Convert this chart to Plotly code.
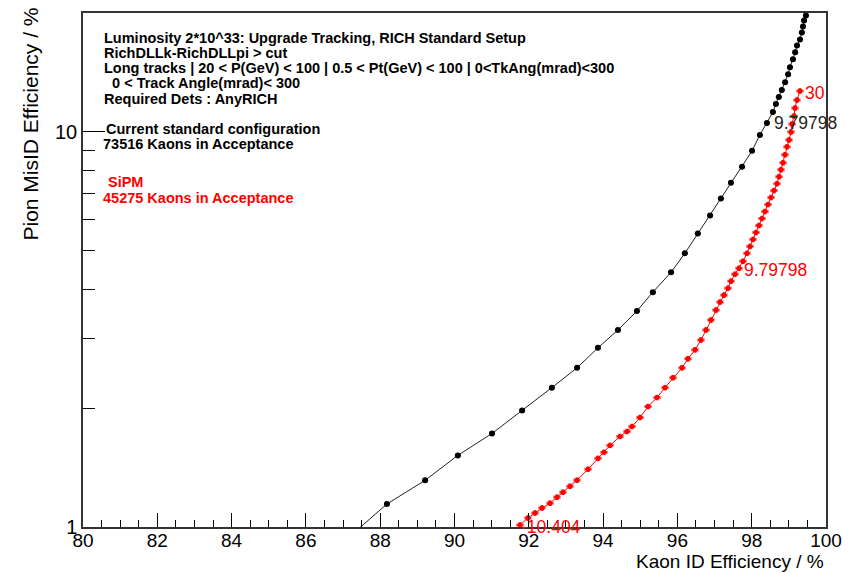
import math
import plotly.graph_objects as go

# ---- data (Kaon ID efficiency %, Pion MisID efficiency %) ----
std_kaon_eff = [87.20, 88.18, 89.21, 90.09, 91.01, 91.82, 92.62, 93.30, 93.86, 94.40,
                94.91, 95.34, 95.83, 96.20, 96.55, 96.88, 97.17, 97.44, 97.74, 98.01,
                98.22, 98.41, 98.57, 98.65, 98.73, 98.81, 98.90, 98.98, 99.03, 99.11,
                99.17, 99.22, 99.30, 99.35, 99.38, 99.41, 99.46, 99.52]
std_pion_mis = [0.95, 1.143, 1.313, 1.518, 1.725, 1.971, 2.253, 2.529, 2.841, 3.153,
                3.521, 3.931, 4.414, 4.928, 5.535, 6.144, 6.781, 7.438, 8.160, 8.955,
                9.827, 10.54, 11.23, 11.77, 12.25, 12.76, 13.36, 14.00, 14.58, 15.27,
                15.91, 16.56, 17.15, 17.86, 18.49, 19.15, 19.71, 20.6]

sipm_kaon_eff = [91.763, 91.978, 92.167, 92.355, 92.571, 92.759, 92.921, 93.109, 93.297, 93.594,
                 93.863, 94.024, 94.186, 94.455, 94.643, 94.778, 94.993, 95.209, 95.451, 95.666,
                 95.882, 96.124, 96.285, 96.474, 96.635, 96.770, 96.904, 97.039, 97.147, 97.254,
                 97.362, 97.443, 97.550, 97.658, 97.766, 97.873, 97.954, 98.035, 98.116, 98.196,
                 98.277, 98.358, 98.439, 98.520, 98.600, 98.681, 98.735, 98.789, 98.843, 98.896,
                 98.950, 99.004, 99.058, 99.085, 99.139, 99.166, 99.219, 99.300]
sipm_pion_mis = [1.012, 1.054, 1.085, 1.117, 1.149, 1.190, 1.225, 1.268, 1.314, 1.400,
                 1.492, 1.545, 1.609, 1.695, 1.745, 1.797, 1.893, 2.018, 2.126, 2.253,
                 2.387, 2.529, 2.666, 2.808, 2.975, 3.153, 3.341, 3.541, 3.709, 3.863,
                 4.023, 4.190, 4.364, 4.518, 4.705, 4.928, 5.132, 5.345, 5.566, 5.797,
                 6.038, 6.289, 6.549, 6.822, 7.104, 7.396, 7.703, 8.023, 8.355, 8.753,
                 9.168, 9.546, 10.00, 10.47, 10.97, 11.49, 12.04, 12.69]

# cut-value labels: (index into series, text)
std_cut_labels = [(21, "9.79798")]
sipm_cut_labels = [(0, "-10.404"), (33, "9.79798"), (57, "30")]

x_ticks = [80, 82, 84, 86, 88, 90, 92, 94, 96, 98, 100]
y_ticks = [1, 10]
y_minor = [2, 3, 4, 5, 6, 7, 8, 9]

info_lines = [
    "Luminosity 2*10^33: Upgrade Tracking, RICH Standard Setup",
    "RichDLLk-RichDLLpi > cut",
    "Long tracks | 20 < P(GeV) < 100 | 0.5 < Pt(GeV) < 100 | 0<TkAng(mrad)<300",
    "  0 < Track Angle(mrad)< 300",
    "Required Dets : AnyRICH",
]
legend_items = [
    ("Current standard configuration", "black"),
    ("73516 Kaons in Acceptance", "black"),
    ("SiPM", "red"),
    ("45275 Kaons in Acceptance", "red"),
]

FONT = "Liberation Sans, Arial, sans-serif"
W, H = 858, 573
L, R, T, B = 83, 32, 11, 46
PW, PH = W - L - R, H - T - B


def px(xp):
    return (xp - L) / PW


def py(yp):
    return (H - B - yp) / PH


def esc(t):
    return t.replace("<", "&lt;").replace(">", "&gt;")


fig = go.Figure()

fig.add_trace(go.Scatter(
    x=std_kaon_eff, y=std_pion_mis, mode="lines+markers",
    line=dict(color="#222222", width=1),
    marker=dict(color="black", size=6, symbol="circle"),
    error_x=dict(type="constant", value=0.06, color="black", thickness=1, width=1),
    error_y=dict(type="percent", value=0.8, color="black", thickness=1, width=1),
    showlegend=False,
))
fig.add_trace(go.Scatter(
    x=sipm_kaon_eff, y=sipm_pion_mis, mode="lines+markers",
    line=dict(color="red", width=1),
    marker=dict(color="red", size=5, symbol="circle"),
    error_x=dict(type="constant", value=0.08, color="red", thickness=1, width=1.5),
    error_y=dict(type="percent", value=1.3, color="red", thickness=1, width=1.5),
    showlegend=False,
))

ann = []
for i, t in std_cut_labels:
    ann.append(dict(x=std_kaon_eff[i], y=math.log10(std_pion_mis[i]),
                    xref="x", yref="y", text=t, showarrow=False, xanchor="left",
                    xshift=5, font=dict(family=FONT, size=17.5, color="#222222")))
for i, t in sipm_cut_labels:
    ann.append(dict(x=sipm_kaon_eff[i], y=math.log10(sipm_pion_mis[i]),
                    xref="x", yref="y", text=t, showarrow=False, xanchor="left",
                    xshift=(-1 if t.startswith("-") else 3), yshift=-2,
                    font=dict(family=FONT, size=17.5, color="red")))

info_y = [36, 51, 66, 81, 97]
for t, yy in zip(info_lines, info_y):
    ann.append(dict(x=px(102), y=py(yy), xref="paper", yref="paper",
                    text="<b>" + esc(t) + "</b>", showarrow=False,
                    xanchor="left", yanchor="middle",
                    font=dict(family=FONT, size=14.5, color="black")))

legend_pos = [(104, 127), (101, 143), (106, 181), (101, 197)]
for (t, c), (xx, yy) in zip(legend_items, legend_pos):
    ann.append(dict(x=px(xx), y=py(yy), xref="paper", yref="paper",
                    text="<b>" + esc(t) + "</b>", showarrow=False, xanchor="left",
                    yanchor="middle", font=dict(family=FONT, size=14.5, color=c)))

ann.append(dict(x=px(826), y=py(562), xref="paper", yref="paper",
                text="Kaon ID Efficiency / %", showarrow=False, xanchor="right",
                yanchor="middle", font=dict(family=FONT, size=19, color="black")))
ann.append(dict(x=px(31), y=py(4), xref="paper", yref="paper",
                text="Pion MisID Efficiency / %", showarrow=False, textangle=-90,
                xanchor="center", yanchor="top",
                font=dict(family=FONT, size=21, color="black")))

fig.update_layout(
    width=W, height=H,
    margin=dict(l=L, r=R, t=T, b=B),
    paper_bgcolor="white", plot_bgcolor="white",
    annotations=ann,
    font=dict(family=FONT, color="black"),
)
fig.update_xaxes(
    range=[80, 100], tickmode="array", tickvals=x_ticks,
    ticks="inside", ticklen=14, tickwidth=1, tickcolor="black",
    minor=dict(dtick=0.5, tick0=80, ticks="inside", ticklen=7, tickcolor="black", tickwidth=1),
    showgrid=False, zeroline=False,
    showline=True, linecolor="#333333", linewidth=1.5, mirror=True,
    tickfont=dict(family=FONT, size=19, color="black"),
    ticklabelstandoff=-5,
)
fig.update_yaxes(
    type="log", range=[0, math.log10(20)],
    tickmode="array", tickvals=y_ticks, ticktext=[str(v) for v in y_ticks],
    ticks="inside", ticklen=22, tickwidth=1, tickcolor="black",
    minor=dict(tickmode="array", tickvals=y_minor, ticks="inside", ticklen=12,
               tickcolor="black", tickwidth=1),
    showgrid=False, zeroline=False,
    showline=True, linecolor="#333333", linewidth=1.5, mirror=True,
    tickfont=dict(family=FONT, size=20, color="black"),
)

fig.write_html("out.html")
